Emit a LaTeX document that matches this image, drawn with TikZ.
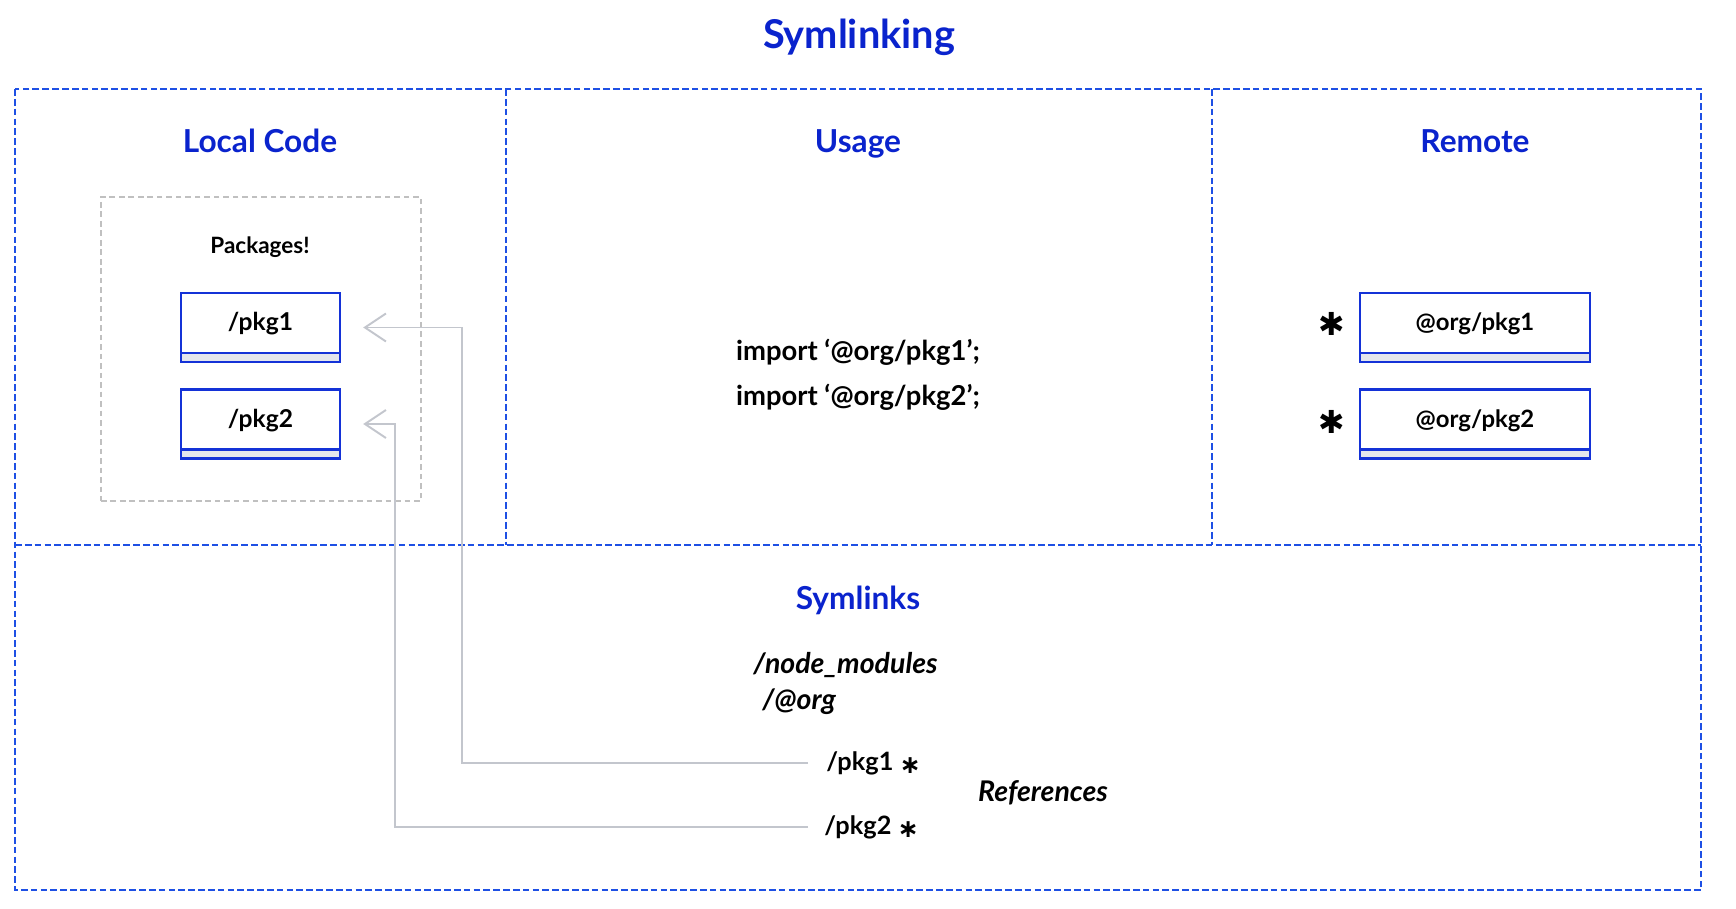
\documentclass[tikz,border=0pt]{standalone}
\usepackage{fontspec}
\setmainfont{Lato}
\newfontfamily\symfont{DejaVu Sans}
\usetikzlibrary{arrows.meta}

\definecolor{headblue}{RGB}{10,35,205}
\definecolor{frameblue}{RGB}{30,80,228}
\definecolor{boxblue}{RGB}{20,50,215}
\definecolor{bandgray}{RGB}{228,230,236}
\definecolor{linkgray}{RGB}{195,198,205}
\definecolor{groupgray}{RGB}{192,192,192}

\tikzset{
  heading/.style={text=headblue, font=\fontsize{9}{10}\selectfont\bfseries,
    text height=6.6pt, text depth=1.9pt},
  frame/.style={frameblue, line width=0.7pt, dash pattern=on 1.9pt off 0.9pt},
  group/.style={draw=groupgray, line width=0.45pt, dash pattern=on 1.6pt off 1.1pt,
    minimum width=32mm, minimum height=30.4mm},
  pkgbox/.style={draw=boxblue, line width=0.7pt, minimum height=6.9mm,
    text depth=4.2pt, text height=6pt, font=\fontsize{7}{8}\selectfont\bfseries,
    path picture={
      \fill[bandgray] (path picture bounding box.south west) rectangle
        ([yshift=2.56pt]path picture bounding box.south east);
      \draw[boxblue, line width=0.6pt] ([yshift=2.56pt]path picture bounding box.south west) --
        ([yshift=2.56pt]path picture bounding box.south east);}},
  code/.style={font=\fontsize{7.8}{9}\selectfont\bfseries},
  path/.style={font=\fontsize{8.1}{9}\selectfont\bfseries\itshape, anchor=west},
  link/.style={linkgray, line width=0.55pt, -{Straight Barb[length=2.1mm, width=2.8mm]}},
}

\begin{document}
\begin{tikzpicture}[x=0.1mm, y=-0.1mm]
    \useasboundingbox (0,0) rectangle (1736,908);
    % frame
    \draw[frame] (15,89) rectangle (1701,890);
    \draw[frame] (15,545) -- (1701,545);
    \draw[frame] (506,89) -- (506,545);
    \draw[frame] (1212,89) -- (1212,545);

    \node[text=headblue, font=\fontsize{11.3}{13}\selectfont\bfseries] (title) at (859,37) {Symlinking};
    \node[heading] (localhead) at (260,144) {Local Code};
    \node[heading] (usagehead) at (858,144) {Usage};
    \node[heading] (remotehead) at (1475,144) {Remote};
    \node[heading] (symhead) at (858,601) {Symlinks};

    % local code
    \node[group] (pkggroup) at (261,349) {};
    \node[font=\fontsize{6.4}{7}\selectfont\bfseries] (pkgtitle) at (260,247) {Packages!};
    \node[pkgbox, minimum width=15.9mm] (pkg1) at (260.5,327.5) {/pkg1};
    \node[pkgbox, minimum width=15.9mm] (pkg2) at (260.5,424) {/pkg2};

    % usage
    \node[code] (import1) at (858,352) {import ‘@org/pkg1’;};
    \node[code] (import2) at (858,397) {import ‘@org/pkg2’;};

    % remote
    \node[pkgbox, minimum width=23mm, font=\fontsize{6.8}{8}\selectfont\bfseries] (remote1) at (1475,327.5) {@org/pkg1};
    \node[pkgbox, minimum width=23mm, font=\fontsize{6.8}{8}\selectfont\bfseries] (remote2) at (1475,424) {@org/pkg2};
    \node[font=\symfont\fontsize{9}{10}\selectfont] (star1) at (1332,324) {✱};
    \node[font=\symfont\fontsize{9}{10}\selectfont] (star2) at (1332,422) {✱};

    % symlinks
    \node[path] (nodemod) at (741,665) {/node\_modules};
    \node[path] (atorg) at (750,702) {/@org};
    \node[path, font=\fontsize{7.2}{8}\selectfont\bfseries] (slink1) at (814,763) {/pkg1 \raisebox{-1pt}{\symfont ∗}};
    \node[path, font=\fontsize{7.2}{8}\selectfont\bfseries] (slink2) at (812,827) {/pkg2 \raisebox{-1pt}{\symfont ∗}};
    \node[path, anchor=center] (refs) at (1043,793) {References};

    \draw[link] ([xshift=-0.6mm]slink1.west) -| ([xshift=12.1mm]pkg1.east) -- ([xshift=2.2mm]pkg1.east);
    \draw[link] ([xshift=-0.4mm]slink2.west) -| ([xshift=5.4mm]pkg2.east) -- ([xshift=2.2mm]pkg2.east);
\end{tikzpicture}
\end{document}
